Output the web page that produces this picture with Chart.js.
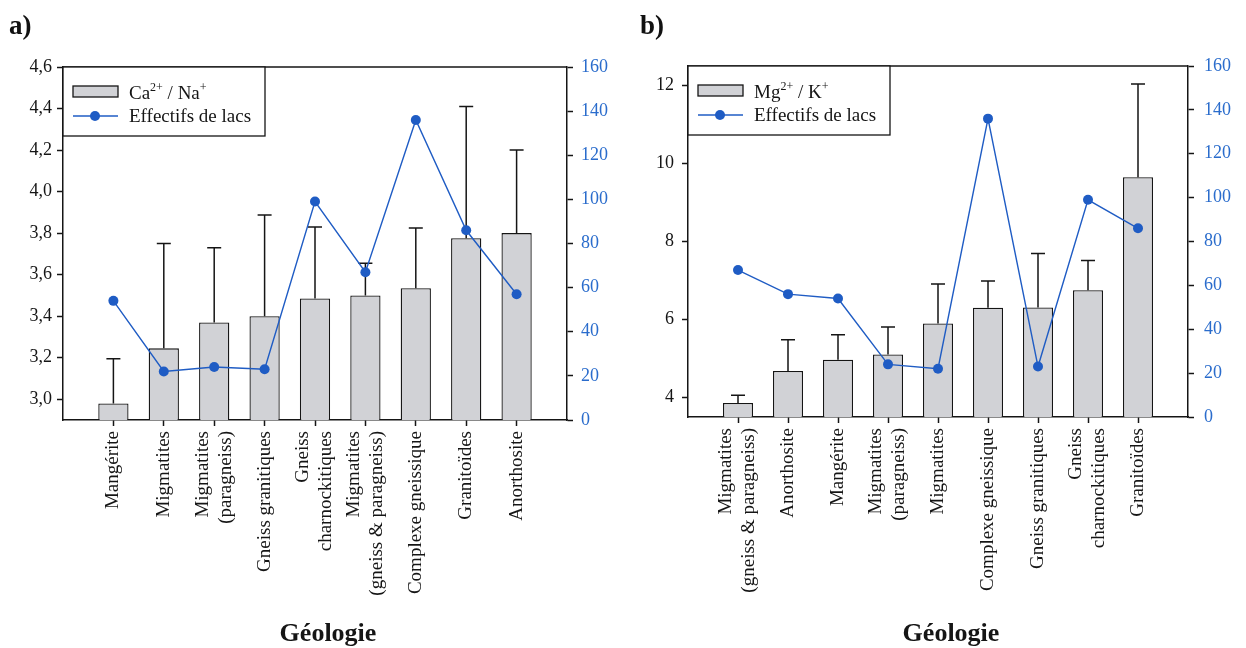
<!DOCTYPE html>
<html lang="fr">
<head>
<meta charset="utf-8">
<title>Rapports ioniques et effectifs de lacs selon la géologie</title>
<script src="https://cdn.jsdelivr.net/npm/chart.js@4.4.1/dist/chart.umd.min.js"></script>
<style>
  body { margin: 0; background: #fff; }
  #page { position: relative; width: 1246px; height: 648px; overflow: hidden; background: #fff; }
  canvas { position: absolute; top: 0; }
  .tag { position: absolute; top: 10px; font: bold 27px "Liberation Serif", serif; color: #111; }
</style>
</head>
<body>
<div id="page">
  <canvas id="chartA" width="623" height="648" style="left:0"></canvas>
  <canvas id="chartB" width="623" height="648" style="left:623px"></canvas>
  <div class="tag" style="left:9px">a)</div>
  <div class="tag" style="left:640px">b)</div>
</div>
<script>
/* ---------- données : panneau a) Ca2+/Na+ ---------- */
const geologieA = [
  "Mangérite",
  "Migmatites",
  ["Migmatites", "(paragneiss)"],
  "Gneiss granitiques",
  ["Gneiss", "charnockitiques"],
  ["Migmatites", "(gneiss & paragneiss)"],
  "Complexe gneissique",
  "Granitoïdes",
  "Anorthosite"
];
const rapportCaNa = [2.98, 3.245, 3.37, 3.40, 3.485, 3.50, 3.535, 3.775, 3.80];
const ecartCaNa   = [0.215, 0.505, 0.36, 0.487, 0.345, 0.155, 0.29, 0.635, 0.40];
const lacsA       = [54, 22, 24, 23, 99, 67, 136, 86, 57];
const graduationsCaNa = [3.0, 3.2, 3.4, 3.6, 3.8, 4.0, 4.2, 4.4, 4.6];

/* ---------- données : panneau b) Mg2+/K+ ---------- */
const geologieB = [
  ["Migmatites", "(gneiss & paragneiss)"],
  "Anorthosite",
  "Mangérite",
  ["Migmatites", "(paragneiss)"],
  "Migmatites",
  "Complexe gneissique",
  "Gneiss granitiques",
  ["Gneiss", "charnockitiques"],
  "Granitoïdes"
];
const rapportMgK = [3.86, 4.68, 4.97, 5.105, 5.90, 6.30, 6.31, 6.75, 9.65];
const ecartMgK   = [0.20, 0.80, 0.64, 0.70, 1.01, 0.69, 1.38, 0.76, 2.39];
const lacsB      = [67, 56, 54, 24, 22, 136, 23, 99, 86];
const graduationsMgK = [4, 6, 8, 10, 12];

/* axe de droite commun */
const graduationsLacs = [0, 20, 40, 60, 80, 100, 120, 140, 160];

/* légendes (morceaux en exposant marqués true) */
const legendeCaNa = [["Ca", false], ["2+", true], [" / Na", false], ["+", true]];
const legendeMgK  = [["Mg", false], ["2+", true], [" / K", false], ["+", true]];
const legendeLacs = "Effectifs de lacs";
const titreAxe = "Géologie";

const SERIF = '"Liberation Serif", "Times New Roman", serif';
const NOIR = "#151515";
const GRIS = "#d1d2d6";
const BLEU = "#1f5cc4";
const BLEU_TEXTE = "#2a6ccc";

// une catégorie vide de chaque côté pour garder la marge des graphes d'origine
const pad = arr => [null, ...arr, null];
const padLabels = arr => ["", ...arr, ""];

/* barres d'erreur (côté positif seulement) */
const errorBars = {
  id: "errorBars",
  afterDatasetDraw(chart, args, opts) {
    if (args.index !== 0 || !opts.values) return;
    const { ctx } = chart;
    const y = chart.scales.y;
    const data = chart.data.datasets[0].data;
    ctx.save();
    ctx.strokeStyle = NOIR;
    ctx.lineWidth = 1.5;
    args.meta.data.forEach((bar, i) => {
      if (data[i] == null) return;
      const yTop = y.getPixelForValue(data[i] + opts.values[i]);
      ctx.beginPath();
      ctx.moveTo(bar.x, bar.y);
      ctx.lineTo(bar.x, yTop);
      ctx.moveTo(bar.x - 7, yTop);
      ctx.lineTo(bar.x + 7, yTop);
      ctx.stroke();
    });
    ctx.restore();
  }
};

/* étiquettes verticales de l'axe x, les lignes multiples centrées sur la graduation */
const etiquettes = {
  id: "etiquettes",
  afterDraw(chart) {
    const { ctx } = chart;
    const x = chart.scales.x;
    const lh = 23;
    ctx.save();
    ctx.font = "19px " + SERIF;
    ctx.fillStyle = NOIR;
    ctx.textAlign = "right";
    ctx.textBaseline = "middle";
    chart.data.labels.forEach((lab, i) => {
      if (!lab) return;
      const lines = Array.isArray(lab) ? lab : [lab];
      ctx.save();
      ctx.translate(x.getPixelForTick(i), x.top + 11);
      ctx.rotate(-Math.PI / 2);
      lines.forEach((t, k) => ctx.fillText(t, 0, (k - (lines.length - 1) / 2) * lh));
      ctx.restore();
    });
    ctx.restore();
  }
};

/* cadre du haut, légende encadrée, titre de l'axe x */
const decor = {
  id: "decor",
  afterDraw(chart, args, opts) {
    const { ctx, chartArea: a } = chart;
    const barSet = chart.data.datasets[0];
    const lineSet = chart.data.datasets[1];
    ctx.save();

    // ligne du haut
    ctx.strokeStyle = NOIR;
    ctx.lineWidth = 1.5;
    ctx.beginPath();
    ctx.moveTo(a.left, a.top);
    ctx.lineTo(a.right, a.top);
    ctx.stroke();

    // légende
    const lx = a.left, ly = a.top, lw = 202, lh = 69;
    ctx.fillStyle = "#fff";
    ctx.fillRect(lx, ly, lw, lh);
    ctx.lineWidth = 1.3;
    ctx.strokeRect(lx, ly, lw, lh);

    ctx.fillStyle = barSet.backgroundColor;
    ctx.fillRect(lx + 10, ly + 19, 45, 11);
    ctx.lineWidth = 1.3;
    ctx.strokeStyle = NOIR;
    ctx.strokeRect(lx + 10, ly + 19, 45, 11);

    ctx.strokeStyle = lineSet.borderColor;
    ctx.lineWidth = 1.3;
    ctx.beginPath();
    ctx.moveTo(lx + 10, ly + 49);
    ctx.lineTo(lx + 55, ly + 49);
    ctx.stroke();
    ctx.fillStyle = lineSet.pointBackgroundColor;
    ctx.beginPath();
    ctx.arc(lx + 32, ly + 49, 5, 0, Math.PI * 2);
    ctx.fill();

    ctx.fillStyle = NOIR;
    ctx.textBaseline = "alphabetic";
    ctx.textAlign = "left";
    let tx = lx + 66;
    opts.parts.forEach(([txt, sup]) => {
      ctx.font = (sup ? "12px " : "19px ") + SERIF;
      ctx.fillText(txt, tx, ly + (sup ? 24 : 32));
      tx += ctx.measureText(txt).width;
    });
    ctx.font = "19px " + SERIF;
    ctx.fillText(lineSet.label, lx + 66, ly + 55);

    // titre de l'axe x
    const x = chart.scales.x;
    ctx.font = "bold 26px " + SERIF;
    ctx.textAlign = "center";
    ctx.fillText(opts.title, (x.left + x.right) / 2 + opts.titleShift, chart.height - 7);
    ctx.restore();
  }
};

function makeChart(id, cfg) {
  const tickFont = { family: SERIF, size: 18 };
  const lastIndex = cfg.categories.length + 1;
  return new Chart(document.getElementById(id), {
    type: "bar",
    data: {
      labels: padLabels(cfg.categories),
      datasets: [
        {
          type: "bar",
          label: cfg.barLabel,
          data: pad(cfg.values),
          backgroundColor: GRIS,
          borderColor: NOIR,
          borderWidth: 1.3,
          borderSkipped: "bottom",
          categoryPercentage: 1,
          barPercentage: 0.6,
          yAxisID: "y",
          order: 2
        },
        {
          type: "line",
          label: legendeLacs,
          data: pad(cfg.lacs),
          borderColor: BLEU,
          borderWidth: 1.4,
          pointRadius: 5,
          pointBackgroundColor: BLEU,
          pointBorderWidth: 0,
          tension: 0,
          yAxisID: "y1",
          order: 1
        }
      ]
    },
    options: {
      responsive: false,
      animation: false,
      devicePixelRatio: 1,
      layout: { padding: { top: cfg.top, left: 0, right: 0, bottom: 0 } },
      plugins: {
        legend: { display: false },
        tooltip: { enabled: false },
        errorBars: { values: pad(cfg.errors) },
        decor: { parts: cfg.legendParts, title: titreAxe, titleShift: 13 }
      },
      scales: {
        x: {
          type: "category",
          offset: false,
          grid: {
            offset: false,
            drawOnChartArea: false,
            tickLength: 6,
            tickWidth: 1.5,
            tickColor: c => (c.index === 0 || c.index === lastIndex) ? "rgba(0,0,0,0)" : NOIR
          },
          border: { color: NOIR, width: 1.5 },
          ticks: { display: false, autoSkip: false },
          afterFit: s => { s.height = cfg.xHeight; }
        },
        y: {
          position: "left",
          min: cfg.yMin,
          max: cfg.yMax,
          grid: { drawOnChartArea: false, tickLength: 6, tickWidth: 1.5, tickColor: NOIR },
          border: { color: NOIR, width: 1.5 },
          ticks: {
            padding: cfg.yPad,
            color: NOIR,
            font: tickFont,
            callback: cfg.yFormat
          },
          afterBuildTicks: s => { s.ticks = cfg.yTicks.map(value => ({ value })); },
          afterFit: s => { s.width = cfg.yWidth; }
        },
        y1: {
          position: "right",
          min: 0,
          max: 160,
          grid: { drawOnChartArea: false, tickLength: 6, tickWidth: 1.5, tickColor: NOIR },
          border: { color: NOIR, width: 1.5 },
          ticks: { padding: cfg.y1Pad, color: BLEU_TEXTE, font: tickFont },
          afterBuildTicks: s => { s.ticks = graduationsLacs.map(value => ({ value })); },
          afterFit: s => { s.width = cfg.y1Width; }
        }
      }
    },
    plugins: [errorBars, etiquettes, decor]
  });
}

makeChart("chartA", {
  categories: geologieA,
  values: rapportCaNa,
  errors: ecartCaNa,
  lacs: lacsA,
  barLabel: "Ca²⁺ / Na⁺",
  legendParts: legendeCaNa,
  yMin: 2.9, yMax: 4.6, yTicks: graduationsCaNa,
  yFormat: v => v.toFixed(1).replace(".", ","),
  top: 67, xHeight: 228, yWidth: 63, y1Width: 56, yPad: 5, y1Pad: 8
});

makeChart("chartB", {
  categories: geologieB,
  values: rapportMgK,
  errors: ecartMgK,
  lacs: lacsB,
  barLabel: "Mg²⁺ / K⁺",
  legendParts: legendeMgK,
  yMin: 3.5, yMax: 12.5, yTicks: graduationsMgK,
  yFormat: v => String(v),
  top: 66, xHeight: 231, yWidth: 65, y1Width: 58, yPad: 8, y1Pad: 10
});
</script>
</body>
</html>
